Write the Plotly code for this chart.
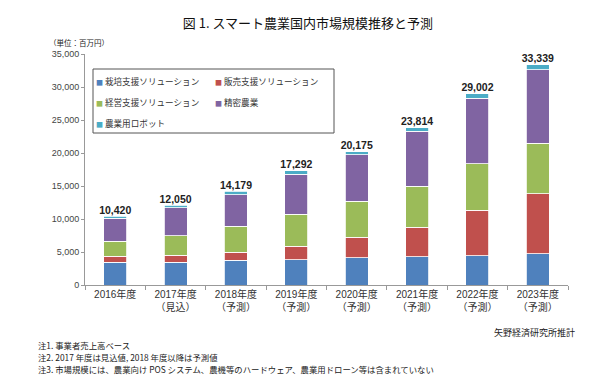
import plotly.graph_objects as go

categories = ["2016年度", "2017年度<br>（見込）", "2018年度<br>（予測）", "2019年度<br>（予測）",
              "2020年度<br>（予測）", "2021年度<br>（予測）", "2022年度<br>（予測）", "2023年度<br>（予測）"]
cultivation = [3450, 3450, 3750, 3850, 4100, 4250, 4450, 4700]
sales = [900, 1050, 1250, 2000, 3100, 4500, 6900, 9100]
management = [2250, 3000, 3900, 4900, 5500, 6200, 7050, 7700]
precision = [3550, 4170, 4800, 6050, 7050, 8350, 9900, 11100]
robot = [270, 380, 479, 492, 425, 514, 702, 739]
totals = [10420, 12050, 14179, 17292, 20175, 23814, 29002, 33339]

series = [
    ("栽培支援ソリューション", cultivation, "#4F81BD", "legend"),
    ("販売支援ソリューション", sales, "#C0504D", "legend2"),
    ("経営支援ソリューション", management, "#9BBB59", "legend"),
    ("精密農業", precision, "#8064A2", "legend2"),
    ("農業用ロボット", robot, "#4BACC6", "legend"),
]

W, H = 600, 377
L, R, T, B = 77, 40, 46, 100
PW, PH = W - L - R, H - T - B


def px(x):
    return (x - L) / PW


def py(y):
    return (H - B - y) / PH


FONT = "Liberation Sans, Noto Sans CJK JP, sans-serif"
JFONT = "Noto Sans CJK JP, sans-serif"

fig = go.Figure()
for name, vals, color, lg in series:
    fig.add_trace(go.Bar(
        x=categories, y=vals, name=name, marker=dict(color=color, line=dict(color="white", width=0.8)),
        width=0.38, showlegend=False, hoverinfo="y+name"))

# legend entries
for name, vals, color, lg in series:
    fig.add_trace(go.Scatter(
        x=[None], y=[None], mode="markers", legend=lg, legendgroup=name,
        marker=dict(color="rgba(0,0,0,0)", size=1),
        name=f"<span style='font-size:7px;color:{color}'>■</span> {name}"))

fig.add_trace(go.Scatter(
    x=categories, y=totals, mode="text", showlegend=False,
    texttemplate="<b>%{y:,}</b>", textposition="top center",
    textfont=dict(family=FONT, size=10.5, color="#222222"), hoverinfo="skip"))

fig.update_layout(
    width=W, height=H, margin=dict(l=L, r=R, t=T, b=B, autoexpand=False),
    paper_bgcolor="white", plot_bgcolor="white",
    barmode="stack", bargap=0.62,
    font=dict(family=FONT, size=10, color="#333333"),
    title=dict(text="図 1. スマート農業国内市場規模推移と予測", x=0.5, xref="container", xanchor="center",
               y=1 - 15 / H, yref="container", yanchor="middle",
               font=dict(family=JFONT, size=13, color="#111111")),
    legend=dict(x=48 / W, xref="container", y=1 - 59 / H, yref="container", xanchor="left", yanchor="top",
                bgcolor="rgba(0,0,0,0)", borderwidth=0, tracegroupgap=2, itemclick=False,
                font=dict(family=JFONT, size=8.6, color="#333333")),
    legend2=dict(x=167 / W, xref="container", y=1 - 59 / H, yref="container", xanchor="left", yanchor="top",
                 bgcolor="rgba(0,0,0,0)", borderwidth=0, tracegroupgap=2, itemclick=False,
                 font=dict(family=JFONT, size=8.6, color="#333333")),
    xaxis=dict(showline=True, linecolor="#999999", linewidth=1, ticks="outside", tickson="boundaries",
               ticklen=4, tickcolor="#999999", showgrid=False, tickangle=0,
               tickfont=dict(family=FONT, size=10, color="#333333")),
    yaxis=dict(range=[0, 35000], dtick=5000, tickformat=",", showline=True, linecolor="#999999",
               linewidth=1, ticks="outside", ticklen=3, tickcolor="#999999", showgrid=False,
               zeroline=False, tickfont=dict(family=FONT, size=9, color="#444444")),
    shapes=[dict(type="rect", xref="paper", yref="paper", x0=px(85), x1=px(326), y0=py(125), y1=py(61),
                 line=dict(color="#555555", width=1), fillcolor="rgba(0,0,0,0)")],
)

ann = [
    ("（単位：百万円）", 40, 34, "left", 7.5),
    ("矢野経済研究所推計", 568, 324, "right", 9),
    ("注1. 事業者売上高ベース", 29, 337, "left", 8.4),
    ("注2. 2017 年度は見込値, 2018 年度以降は予測値", 29, 349, "left", 8.4),
    ("注3. 市場規模には、農業向け POS システム、農機等のハードウェア、農業用ドローン等は含まれていない", 29, 361, "left", 8.4),
]
for text, x, y, anc, size in ann:
    fig.add_annotation(text=text, x=px(x), y=py(y), xref="paper", yref="paper", xanchor=anc,
                       yanchor="middle", showarrow=False, borderpad=0,
                       font=dict(family=JFONT, size=size, color="#222222"))

fig.write_html("out.html")
